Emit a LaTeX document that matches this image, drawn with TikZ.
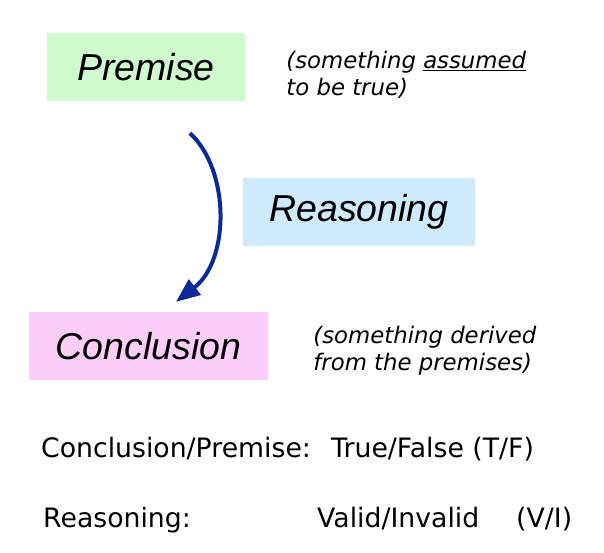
\documentclass[tikz,border=0pt]{standalone}
\usepackage{fontspec}
\newfontfamily\boxfont{Liberation Sans}
\newfontfamily\notefont{DejaVu Sans}
\usetikzlibrary{arrows.meta,positioning}

\definecolor{premisegreen}{RGB}{206,250,206}
\definecolor{reasonblue}{RGB}{206,234,252}
\definecolor{conclpink}{RGB}{254,206,250}
\definecolor{arrowblue}{RGB}{12,42,150}

\begin{document}
\begin{tikzpicture}[x=1pt,y=-1pt]

  \tikzset{main node/.style={rectangle, inner sep=0pt, minimum height=68pt,
  		text centered, font=\boxfont\itshape\fontsize{37.5}{40}\selectfont}, }
  \tikzset{note node/.style={inner sep=0pt, align=left,
  		font=\notefont\itshape\fontsize{22.8}{27}\selectfont}, }
  \tikzset{plain node/.style={inner sep=0pt, anchor=base west,
  		font=\notefont\fontsize{26.7}{30}\selectfont}, }
  \tikzset{linea/.style={-{Triangle[length=24pt,width=19pt]}, line width=4pt,
  		draw=arrowblue}, }
  \useasboundingbox (0,0) rectangle (604,553);

    \node[main node, fill=premisegreen, minimum width=198pt] (1) at (146,67) {Premise};
    \node[main node, fill=reasonblue, minimum width=232pt] (2) at (359,212) {Reasoning};
    \node[main node, fill=conclpink, minimum width=239pt] (3) at (148.5,346) {Conclusion};

    \node[note node] (4) [right =41pt of 1, yshift=-7.5pt]
      {(something \underline{assumed}\\to be true)};
    \node[note node] (5) [right =45pt of 3, yshift=-5pt]
      {(something derived\\from the premises)};

    \node[plain node] (6) at (41,457) {Conclusion/Premise:};
    \node[plain node] (7) at (331,457) {True/False (T/F)};
    \node[plain node] (8) at (43,527) {Reasoning:};
    \node[plain node] (9) at (317,527) {Valid/Invalid};
    \node[plain node] (10) at (516,527) {(V/I)};

  \draw[linea] ([shift={(44,32)}]1.south) .. controls +(40,37) and +(54,-42)
    .. ([shift={(27.5,-10)}]3.north);
%%
\end{tikzpicture}
\end{document}
